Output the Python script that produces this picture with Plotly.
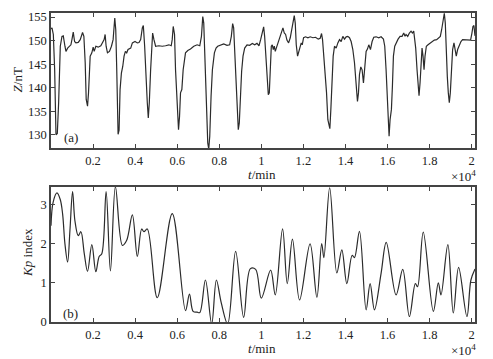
import plotly.graph_objects as go

# ---------------- data ----------------
t_z = [0, 47, 111, 174, 237, 300, 363, 442, 521, 584, 663, 711, 790, 868, 947, 995, 1058, 1121, 1184, 1295,
       1390, 1500, 1563, 1626, 1674, 1737, 1784, 1863, 1942, 2005, 2053, 2132, 2242, 2369, 2447, 2526, 2574,
       2621, 2684, 2779, 2874, 2953, 3032, 3079, 3126, 3190, 3237, 3284, 3347, 3411, 3474, 3537, 3600, 3663,
       3790, 3869, 3995, 4105, 4184, 4263, 4342, 4390, 4453, 4516, 4579, 4626, 4674, 4737, 4784, 4832, 4895,
       4974, 5132, 5290, 5448, 5605, 5716, 5763, 5811, 5874, 5921, 6000, 6063, 6111, 6158, 6221, 6284, 6395,
       6505, 6632, 6790, 6948, 7074, 7153, 7216, 7263, 7327, 7390, 7453, 7500, 7548, 7611, 7674, 7769, 7848,
       7927, 8053, 8211, 8369, 8495, 8574, 8637, 8685, 8763, 8842, 8905, 8953, 9010, 9064, 9130, 9209, 9320,
       9446, 9573, 9684, 9794, 9889, 9968, 10047, 10111, 10158, 10206, 10269, 10332, 10380, 10427, 10475,
       10522, 10570, 10617, 10664, 10712, 10791, 10870, 10949, 11028, 11092, 11155, 11218, 11297, 11376,
       11455, 11519, 11566, 11614, 11661, 11724, 11772, 11835, 11898, 11946, 12009, 12104, 12215, 12326,
       12452, 12579, 12705, 12800, 12864, 12911, 12974, 13037, 13101, 13164, 13211, 13259, 13306, 13354,
       13417, 13480, 13560, 13639, 13718, 13797, 13876, 13955, 14034, 14113, 14192, 14271, 14351, 14430,
       14509, 14572, 14620, 14667, 14730, 14793, 14856, 14920, 14983, 15046, 15110, 15189, 15268, 15347,
       15458, 15584, 15695, 15806, 15869, 15932, 15996, 16043, 16075, 16122, 16186, 16233, 16281, 16344,
       16407, 16502, 16597, 16692, 16771, 16834, 16882, 16961, 17040, 17119, 17183, 17246, 17294, 17341,
       17404, 17452, 17499, 17547, 17594, 17642, 17689, 17737, 17784, 17847, 17926, 18021, 18116, 18226,
       18337, 18432, 18511, 18574, 18637, 18701, 18748, 18796, 18843, 18891, 18938, 18986, 19033, 19096,
       19160, 19223, 19270, 19334, 19413, 19492, 19571, 19697, 19824, 19951, 20014, 20062, 20109, 20160]
z_nT = [152.5, 152.7, 151.3, 143.8, 130.0, 130.3, 136.8, 148.8, 150.9, 151.0, 148.8, 147.7, 148.4, 148.8, 149.1,
        150.2, 151.8, 149.8, 149.5, 149.6, 150.2, 151.7, 150.9, 145.3, 137.5, 136.1, 138.9, 146.7, 147.4,
        148.6, 147.7, 148.8, 148.6, 148.9, 149.5, 150.2, 151.3, 148.8, 147.4, 147.7, 148.8, 150.2, 154.8,
        152.3, 143.8, 130.1, 131.0, 139.6, 143.1, 144.5, 146.7, 147.7, 147.4, 148.1, 148.4, 149.5, 149.8,
        149.5, 149.6, 150.2, 152.7, 153.2, 148.8, 141.7, 136.8, 133.6, 136.8, 143.8, 149.5, 151.6, 150.2,
        148.8, 148.9, 148.8, 148.9, 149.1, 148.9, 150.2, 153.0, 151.3, 143.8, 136.8, 131.1, 133.9, 138.9,
        139.6, 143.8, 147.4, 147.9, 148.2, 148.8, 149.1, 148.9, 150.9, 155.1, 153.7, 143.8, 134.7, 128.3,
        127.0, 129.7, 138.2, 143.8, 147.4, 148.4, 148.8, 149.1, 149.3, 149.0, 149.1, 150.9, 153.6, 152.7,
        145.3, 136.8, 131.1, 132.5, 138.5, 143.5, 146.7, 148.4, 149.1, 149.0, 149.4, 149.1, 149.4, 148.9,
        150.2, 152.0, 152.9, 150.9, 146.7, 141.7, 138.5, 138.9, 143.8, 148.8, 149.1, 148.1, 148.8, 147.7,
        148.4, 149.5, 150.9, 152.0, 152.7, 151.6, 151.3, 150.1, 149.5, 150.6, 152.7, 154.4, 155.3, 153.7,
        149.1, 146.7, 147.4, 148.1, 149.5, 149.1, 150.6, 150.8, 150.6, 150.8, 150.6, 150.7, 150.3, 150.5,
        151.5, 150.2, 146.7, 142.4, 138.9, 133.2, 132.5, 131.3, 135.4, 142.4, 146.7, 148.8, 148.4, 149.5,
        150.2, 149.8, 150.9, 150.3, 150.8, 150.9, 150.6, 149.8, 148.1, 145.3, 141.0, 137.1, 138.9, 142.8,
        144.4, 143.8, 141.0, 144.2, 147.7, 148.2, 149.1, 148.1, 149.8, 150.7, 150.8, 150.6, 150.8, 150.3,
        148.8, 143.8, 136.8, 130.8, 129.7, 133.2, 135.4, 140.3, 146.7, 148.8, 149.5, 150.3, 150.9, 150.9,
        151.6, 150.9, 151.3, 150.9, 151.6, 152.0, 151.6, 152.0, 150.2, 148.4, 143.8, 139.6, 138.3, 141.0,
        145.3, 148.4, 146.7, 143.8, 146.7, 148.8, 149.1, 149.4, 149.6, 150.1, 150.2, 150.6, 150.9, 152.3,
        154.1, 155.8, 153.7, 146.7, 142.4, 138.9, 136.8, 138.9, 143.8, 148.1, 149.5, 147.7, 146.7, 148.1,
        149.1, 149.8, 150.2, 150.2, 150.2, 150.1, 151.6, 153.0, 153.2, 151.0]

t_kp = [0, 100, 284, 440, 553, 663, 790, 900, 1026, 1137, 1295, 1421, 1580, 1737, 1942, 2132, 2290, 2416,
        2621, 2826, 3063, 3395, 3600, 3869, 4105, 4311, 4421, 4579, 5053, 5764, 6395, 6584, 6758, 6948,
        7074, 7343, 7640, 7864, 8090, 8400, 8779, 9160, 9480, 9731, 10000, 10443, 10664, 11010, 11234,
        11480, 11819, 12318, 12642, 12870, 12974, 13250, 13591, 13828, 14066, 14319, 14430, 14667, 14983,
        15173, 15379, 15695, 15940, 16407, 16724, 17040, 17325, 17430, 17700, 18179, 18416, 18543, 18870,
        19128, 19380, 19776, 19966, 20160]
kp_index = [2.45, 3.05, 3.29, 3.12, 2.75, 1.99, 1.53, 2.33, 3.32, 2.58, 2.2, 2.3, 1.75, 1.29, 1.97, 1.28, 1.67,
            1.74, 3.32, 1.30, 3.45, 1.95, 2.08, 2.73, 1.67, 2.37, 2.30, 2.37, 0.62, 2.76, 0.29, 0.71, 0.27,
            0.25, 0.24, 1.07, -0.05, 1.07, 0.5, -0.05, 1.80, 0.12, 1.36, 1.34, 0.61, 1.32, 0.69, 2.37, 0.98,
            2.11, 0.56, 1.99, 0.63, 2.0, 1.64, 3.42, 1.25, 1.84, 0.98, 1.70, 1.64, 2.31, 0.31, 0.98, 0.31,
            1.24, 2.03, 0.69, 1.34, 0.14, 0.98, 0.9, 2.29, 0.27, 1.0, 0.69, 1.97, 0.23, 1.39, 0.14, 1.07, 1.35]

x_tickvals = [2000, 4000, 6000, 8000, 10000, 12000, 14000, 16000, 18000, 20000]
x_ticktext = ["0.2", "0.4", "0.6", "0.8", "1", "1.2", "1.4", "1.6", "1.8", "2"]
z_tickvals = [130, 135, 140, 145, 150, 155]
kp_tickvals = [0, 1, 2, 3]

# ---------------- figure ----------------
FONT = "Liberation Serif"
LINE = "#2b2b2b"
AX = "#444444"
TXT = "#222222"

fig = go.Figure()
fig.add_trace(go.Scatter(x=t_z, y=z_nT, mode="lines", line=dict(color=LINE, width=1.2),
                         xaxis="x", yaxis="y", showlegend=False))
fig.add_trace(go.Scatter(x=t_kp, y=kp_index, mode="lines",
                         line=dict(color=LINE, width=1.2, shape="spline", smoothing=1.0),
                         xaxis="x2", yaxis="y2", showlegend=False))

common_x = dict(range=[0, 20160], tickvals=x_tickvals, ticktext=x_ticktext, ticks="inside", ticklen=4,
                tickcolor=AX, showline=True, linecolor=AX, linewidth=1.5, mirror="ticks",
                showgrid=False, zeroline=False, ticklabelstandoff=0,
                tickfont=dict(family=FONT, size=12.5, color=TXT))
common_y = dict(ticks="inside", ticklen=4, tickcolor=AX, showline=True, linecolor=AX, linewidth=1.5,
                mirror="ticks", showgrid=False, zeroline=False,
                tickfont=dict(family=FONT, size=12.5, color=TXT))

fig.update_layout(
    width=493, height=359,
    margin=dict(l=51, r=18, t=10, b=37),
    paper_bgcolor="white", plot_bgcolor="white",
    font=dict(family=FONT, size=13, color=TXT),
    xaxis=dict(domain=[0, 1], anchor="y", **common_x),
    yaxis=dict(domain=[0.563, 1], anchor="x", range=[127.2, 155.85], tickvals=z_tickvals, **common_y),
    xaxis2=dict(domain=[0, 1], anchor="y2", **common_x),
    yaxis2=dict(domain=[0, 0.437], anchor="x2", range=[0, 3.44], tickvals=kp_tickvals, **common_y),
)

ann = [
    dict(text="<i>Z</i>/nT", x=-0.080, y=0.782, textangle=-90),
    dict(text="<i>Kp</i> index", x=-0.054, y=0.224, textangle=-90),
    dict(text="<i>t</i>/min", x=0.498, y=0.478),
    dict(text="<i>t</i>/min", x=0.498, y=-0.087),
    dict(text="×10<sup>4</sup>", x=0.972, y=0.474),
    dict(text="×10<sup>4</sup>", x=0.972, y=-0.089),
    dict(text="(a)", x=0.047, y=0.596),
    dict(text="(b)", x=0.047, y=0.029),
]
for a in ann:
    fig.add_annotation(xref="paper", yref="paper", showarrow=False, xanchor="center", yanchor="middle",
                       font=dict(family=FONT, size=13, color=TXT), **a)

fig.write_html("out.html", config={"displayModeBar": False},
               post_script="document.body.style.margin='0';document.body.style.padding='0';"
                           "document.documentElement.style.overflow='hidden';")
